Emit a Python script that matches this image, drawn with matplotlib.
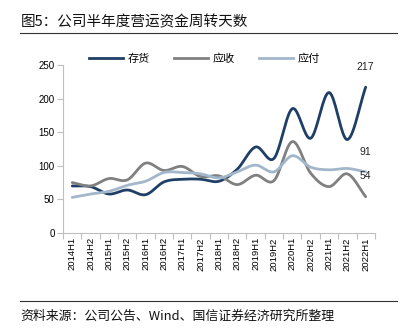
import numpy as np
import matplotlib
matplotlib.use("Agg")
import matplotlib.pyplot as plt
from matplotlib.lines import Line2D

plt.rcParams['font.family'] = ['Noto Sans CJK SC', 'DejaVu Sans']

periods = ['2014H1', '2014H2', '2015H1', '2015H2', '2016H1', '2016H2', '2017H1',
           '2017H2', '2018H1', '2018H2', '2019H1', '2019H2', '2020H1', '2020H2',
           '2021H1', '2021H2', '2022H1']
inventory_days = [70, 69, 58, 64, 57, 76, 80, 80, 77, 95, 128, 111, 185, 141, 209, 139, 217]
receivable_days = [75, 70, 81, 79, 104, 93, 99, 84, 85, 72, 86, 78, 136, 89, 69, 88, 54]
payable_days = [53, 58, 62, 71, 77, 90, 90, 88, 82, 91, 101, 91, 115, 98, 94, 96, 91]
series_names = ['存货', '应收', '应付']
series_colors = ['#1f3f66', '#808080', '#a3b7cc']

title_text = '图5：公司半年度营运资金周转天数'
source_text = '资料来源：公司公告、Wind、国信证券经济研究所整理'


def catmull_rom(y, n=20):
    """Smooth curve through points (Excel-style smoothed line)."""
    y = np.asarray(y, dtype=float)
    x = np.arange(len(y), dtype=float)
    p = np.concatenate([[2 * y[0] - y[1]], y, [2 * y[-1] - y[-2]]])
    px = np.concatenate([[x[0] - 1], x, [x[-1] + 1]])
    xs, ys = [], []
    t = np.linspace(0, 1, n, endpoint=False)
    for i in range(1, len(p) - 2):
        for arr, out in ((px, xs), (p, ys)):
            p0, p1, p2, p3 = arr[i - 1], arr[i], arr[i + 1], arr[i + 2]
            out.append(0.5 * ((2 * p1) + (-p0 + p2) * t
                              + (2 * p0 - 5 * p1 + 4 * p2 - p3) * t ** 2
                              + (-p0 + 3 * p1 - 3 * p2 + p3) * t ** 3))
    xs.append([x[-1]])
    ys.append([y[-1]])
    return np.concatenate(xs), np.concatenate(ys)


fig = plt.figure(figsize=(4.07, 3.30), dpi=100)
ax = fig.add_axes([0.155, 0.294, 0.766, 0.509])

handles = []
for vals, name, col in zip([inventory_days, receivable_days, payable_days],
                           series_names, series_colors):
    sx, sy = catmull_rom(vals)
    ax.plot(sx, sy, color=col, lw=2.0, solid_capstyle='round', zorder=3)
    handles.append(Line2D([], [], color=col, lw=2.0))

# end-value labels
for vals in [inventory_days, payable_days, receivable_days]:
    ax.annotate(f'{vals[-1]}', xy=(len(vals) - 1, vals[-1]), xytext=(0, 11),
                textcoords='offset points', ha='center', va='bottom',
                fontsize=7.5, family='Liberation Sans', color='#222222')

ax.set_xlim(-0.5, len(periods) - 0.5)
ax.set_ylim(0, 250)
ax.set_yticks(np.arange(0, 251, 50))
ax.set_xticks(np.arange(len(periods)))
ax.set_xticklabels(periods, rotation=90, fontsize=6.8, family='Liberation Sans')
ax.set_xticks(np.arange(len(periods) + 1) - 0.5, minor=True)
ax.tick_params(axis='x', which='major', length=0, pad=3)
ax.tick_params(axis='x', which='minor', length=4, color='#bfbfbf', width=0.8)
ax.tick_params(axis='y', length=4, color='#bfbfbf', width=0.8, labelsize=7, pad=2)
for lab in ax.get_yticklabels():
    lab.set_family('Liberation Sans')

for s in ['top', 'right']:
    ax.spines[s].set_visible(False)
for s in ['left', 'bottom']:
    ax.spines[s].set_color('#bfbfbf')
    ax.spines[s].set_linewidth(0.8)

fig.legend(handles, series_names, loc='center', bbox_to_anchor=(0.502, 0.822),
           ncol=3, frameon=False, fontsize=8, handlelength=3.05,
           columnspacing=2.2, handletextpad=0.4)

fig.text(0.05, 0.933, title_text, fontsize=10.5, ha='left', va='center', color='#111111')
fig.add_artist(Line2D([0.05, 0.975], [0.9, 0.9], color='#333333', lw=0.8))
fig.add_artist(Line2D([0.05, 0.975], [0.089, 0.089], color='#333333', lw=0.8))
fig.text(0.05, 0.042, source_text, fontsize=9.3, ha='left', va='center', color='#111111')

fig.savefig('out.png', dpi=100)
